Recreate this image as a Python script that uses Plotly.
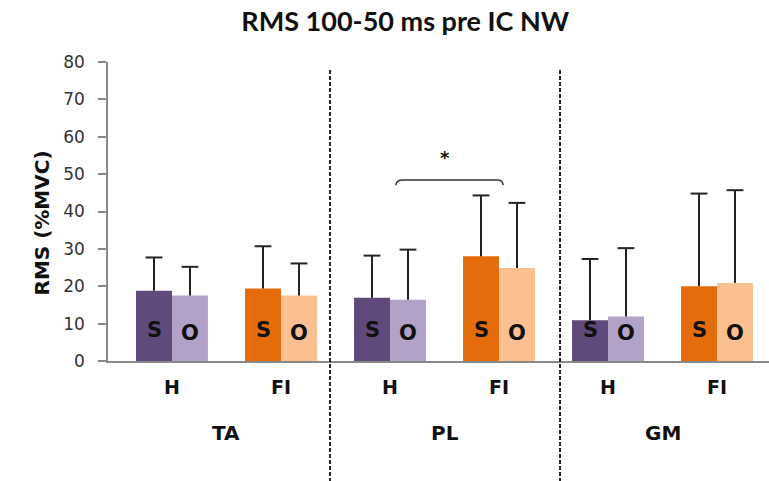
import plotly.graph_objects as go

# ---- data ----
muscles = ["TA", "PL", "GM"]
conditions = ["H", "FI", "H", "FI", "H", "FI"]
s_mean = [18.8, 19.4, 16.9, 28.0, 10.9, 20.0]
s_sd = [8.9, 11.3, 11.3, 16.3, 16.4, 24.8]
o_mean = [17.5, 17.5, 16.4, 24.9, 11.9, 20.9]
o_sd = [7.7, 8.6, 13.4, 17.4, 18.3, 24.8]
s_colors = ["#604A7B", "#E46C0A", "#604A7B", "#E46C0A", "#604A7B", "#E46C0A"]
o_colors = ["#B3A2C7", "#FAC090", "#B3A2C7", "#FAC090", "#B3A2C7", "#FAC090"]
y_ticks = [0, 10, 20, 30, 40, 50, 60, 70, 80]

BARGAP = 0.34
HALF = (1 - BARGAP) / 4  # centre offset of each bar within its group

xpos = list(range(len(conditions)))
zeros = [0] * len(conditions)
err_style = dict(type="data", symmetric=False, arrayminus=zeros,
                 color="#222222", thickness=2, width=0)

fig = go.Figure()
fig.add_trace(go.Bar(
    x=xpos, y=s_mean, name="S",
    marker=dict(color=s_colors, line=dict(width=0)),
    error_y=dict(array=s_sd, **err_style),
))
fig.add_trace(go.Bar(
    x=xpos, y=o_mean, name="O",
    marker=dict(color=o_colors, line=dict(width=0)),
    error_y=dict(array=o_sd, **err_style),
))
# top caps of the error bars
for mean, sd, sign in [(s_mean, s_sd, -1), (o_mean, o_sd, 1)]:
    fig.add_trace(go.Scatter(
        x=[i + sign * HALF for i in xpos],
        y=[m + s for m, s in zip(mean, sd)],
        mode="markers", hoverinfo="skip",
        marker=dict(symbol="line-ew", size=12, line=dict(color="#222222", width=2)),
    ))

bar_font = dict(family="DejaVu Sans", size=21, color="#111111")
lab_font = dict(family="DejaVu Sans", size=19, color="#111111")
grp_font = dict(family="DejaVu Sans", size=20, color="#111111")
annotations = []
for i in xpos:
    annotations.append(dict(x=i - HALF, y=8.3, xref="x", yref="y", text="<b>S</b>",
                            showarrow=False, font=bar_font))
    annotations.append(dict(x=i + HALF, y=7.6, xref="x", yref="y", text="<b>O</b>",
                            showarrow=False, font=bar_font))
    annotations.append(dict(x=i, y=0, xref="x", yref="paper", yshift=-26, yanchor="middle",
                            text="<b>%s</b>" % conditions[i], showarrow=False, font=lab_font))
for j, m in enumerate(muscles):
    annotations.append(dict(x=2 * j + 0.5, y=0, xref="x", yref="paper", yshift=-72,
                            yanchor="middle", text="<b>%s</b>" % m, showarrow=False,
                            font=grp_font))

# y-axis title
annotations.append(dict(x=-0.121, y=0.46, xref="paper", yref="paper",
                        text="<b>RMS (%MVC)</b>", textangle=-90, showarrow=False,
                        font=dict(family="DejaVu Sans", size=20, color="#111111")))
# significance star
annotations.append(dict(x=2.50, y=54.5, xref="x", yref="y", text="<b>*</b>",
                        showarrow=False, font=dict(family="DejaVu Sans", size=18, color="#111111")))

shapes = []
# dashed separators
for xv in [1.45, 3.56]:
    shapes.append(dict(type="line", xref="x", yref="paper", x0=xv, x1=xv,
                       y0=0.973, y1=-0.41,
                       line=dict(color="#222222", width=2, dash="4px,2px")))
# significance bracket
shapes.append(dict(type="path", xref="x", yref="y",
                   path="M 2.055 47 Q 2.055 48.4 2.12 48.4 L 2.98 48.4 Q 3.037 48.4 3.037 47",
                   line=dict(color="#333333", width=1.5)))

fig.update_layout(
    width=769, height=481,
    margin=dict(l=108, r=0, t=62, b=120),
    paper_bgcolor="white", plot_bgcolor="white",
    barmode="group", bargap=BARGAP, bargroupgap=0,
    showlegend=False,
    title=dict(text="<b>RMS 100-50 ms pre IC NW</b>", x=0.527, xanchor="center",
               y=0.955, yanchor="middle",
               font=dict(family="Lato", size=27, color="#111111")),
    xaxis=dict(range=[-0.587, 5.477], showticklabels=False, showgrid=False,
               zeroline=False, showline=True, linecolor="#888888", linewidth=1.5,
               ticks=""),
    yaxis=dict(range=[0, 80], tickvals=y_ticks, showgrid=False, zeroline=False,
               showline=True, linecolor="#888888", linewidth=1.5,
               ticks="outside", ticklen=8, tickcolor="#888888", tickwidth=1.5,
               ticklabelstandoff=10,
               tickfont=dict(family="DejaVu Sans", size=17, color="#333333")),
    annotations=annotations,
    shapes=shapes,
)

fig.write_html("out.html")
